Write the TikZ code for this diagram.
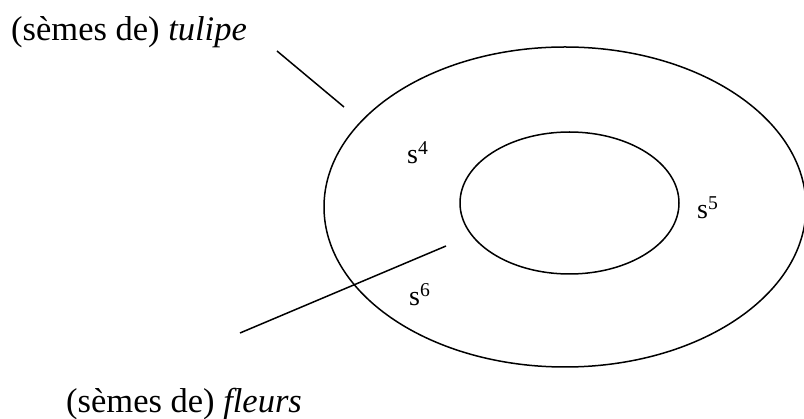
\documentclass[tikz,border=0pt]{standalone}
\usepackage{fontspec}
\setmainfont{Liberation Serif}
\usepackage{tikz}

\begin{document}
\begin{tikzpicture}[x=1pt,y=-1pt]
  \tikzset{semfield/.style={draw=black,line width=1.5pt}}
  \tikzset{pointer/.style={draw=black,line width=1.5pt}}
  \tikzset{semlabel/.style={font=\fontsize{34.5}{40}\selectfont,inner sep=0pt,anchor=base west}}
  \tikzset{seme/.style={font=\fontsize{28}{32}\selectfont,inner sep=0pt,anchor=base west}}

  \useasboundingbox (0,0) rectangle (804,419);

  \draw[semfield] (565,207) ellipse [x radius=241, y radius=160];
  \draw[semfield] (569.5,203) ellipse [x radius=109.5, y radius=71];

  \node[semlabel] (tulipe) at (11,41) {(sèmes de) \textit{tulipe}};
  \node[semlabel] (fleurs) at (66,413) {(sèmes de) \textit{fleurs}};

  \node[seme] (s4) at (407,164) {s\textsuperscript{4}};
  \node[seme] (s5) at (697,219) {s\textsuperscript{5}};
  \node[seme] (s6) at (409,306) {s\textsuperscript{6}};

  \coordinate (t1) at (277,51);
  \coordinate (t2) at (344,107);
  \coordinate (f1) at (240,333);
  \coordinate (f2) at (446,246);

  \draw[pointer] (t1) -- (t2);
  \draw[pointer] (f1) -- (f2);
\end{tikzpicture}
\end{document}
